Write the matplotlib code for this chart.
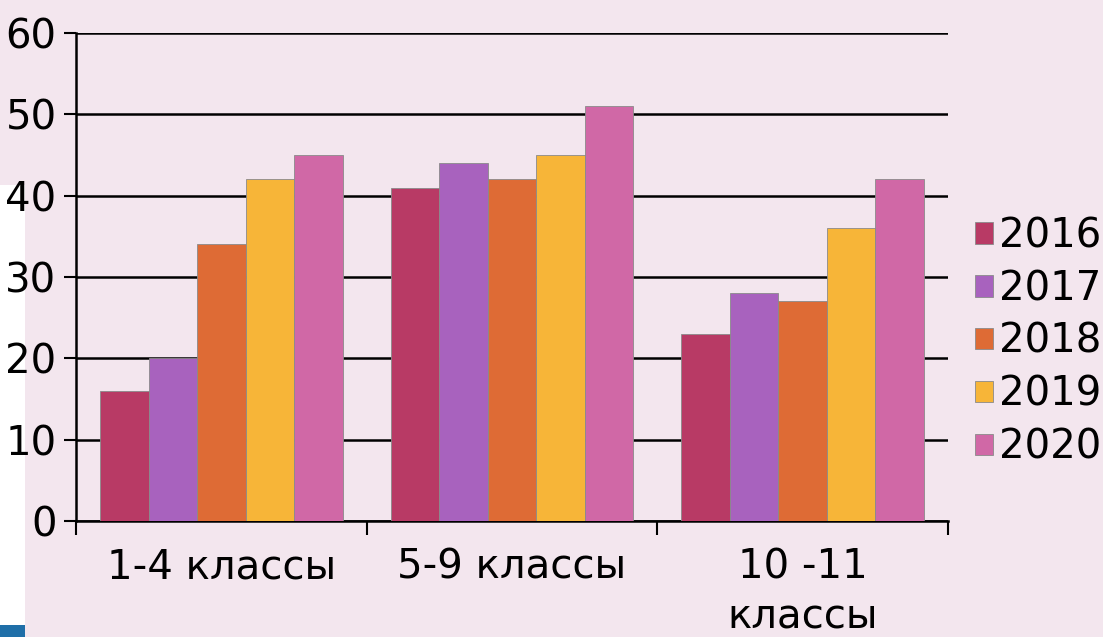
import matplotlib
matplotlib.use("Agg")
import matplotlib.pyplot as plt
import matplotlib.patches as mpatches
import numpy as np

categories = ["1-4 классы", "5-9 классы", "10 -11\nклассы"]
years = ["2016", "2017", "2018", "2019", "2020"]
values = {
    "2016": [16, 41, 23],
    "2017": [20, 44, 28],
    "2018": [34, 42, 27],
    "2019": [42, 45, 36],
    "2020": [45, 51, 42],
}
colors = ["#B83A65", "#A862BE", "#DE6B35", "#F7B538", "#D068A6"]
yticks = [0, 10, 20, 30, 40, 50, 60]

bg = "#F3E6EE"
fig = plt.figure(figsize=(11.03, 6.37), dpi=100, facecolor=bg)
# white strip at left-bottom
fig.patches.append(mpatches.Rectangle((0, 0), 25/1103, (637-185)/637, transform=fig.transFigure,
                                      facecolor="white", edgecolor="none", zorder=-5))
fig.patches.append(mpatches.Rectangle((0, 0), 25/1103, 12/637, transform=fig.transFigure,
                                      facecolor="#1F6FA8", edgecolor="none", zorder=-5))

ax = fig.add_axes([76/1103, (637-521)/637, (948-76)/1103, 488/637])
ax.set_facecolor("none")
ax.set_zorder(2)

x = np.arange(len(categories))
bw = 0.167
n = len(years)
for i, (yr, c) in enumerate(zip(years, colors)):
    ax.bar(x + (i - (n-1)/2) * bw, values[yr], width=bw, color=c, edgecolor="#8a8a8a",
           linewidth=0.6, label=yr, zorder=3)

ax.set_xlim(-0.5, 2.5)
ax.set_ylim(0, 60)
ax.set_yticks(yticks)
ax.tick_params(axis="y", labelsize=29, length=9, width=1.5, direction="out", pad=5)
ax.yaxis.grid(True, color="black", linewidth=1.8, zorder=0)
ax.set_axisbelow(True)

ax.set_xticks([-0.5, 0.5, 1.5, 2.5])
ax.set_xticklabels([])
ax.tick_params(axis="x", which="major", length=10, width=1.5, direction="out")
ax.set_xticks(x, minor=True)
ax.set_xticklabels(categories, minor=True, fontsize=29, linespacing=1.3)
ax.tick_params(axis="x", which="minor", length=0, pad=19)

for s in ["top", "right"]:
    ax.spines[s].set_visible(False)
for s in ["left", "bottom"]:
    ax.spines[s].set_linewidth(1.8)
    ax.spines[s].set_color("black")

leg = fig.legend(loc="center left", bbox_to_anchor=(975/1103, (637-342)/637), frameon=False,
                 fontsize=29, handlelength=0.45, handleheight=0.45, handletextpad=0.15,
                 labelspacing=0.32, borderpad=0, borderaxespad=0)

fig.savefig("out.png", dpi=100, facecolor=bg)
